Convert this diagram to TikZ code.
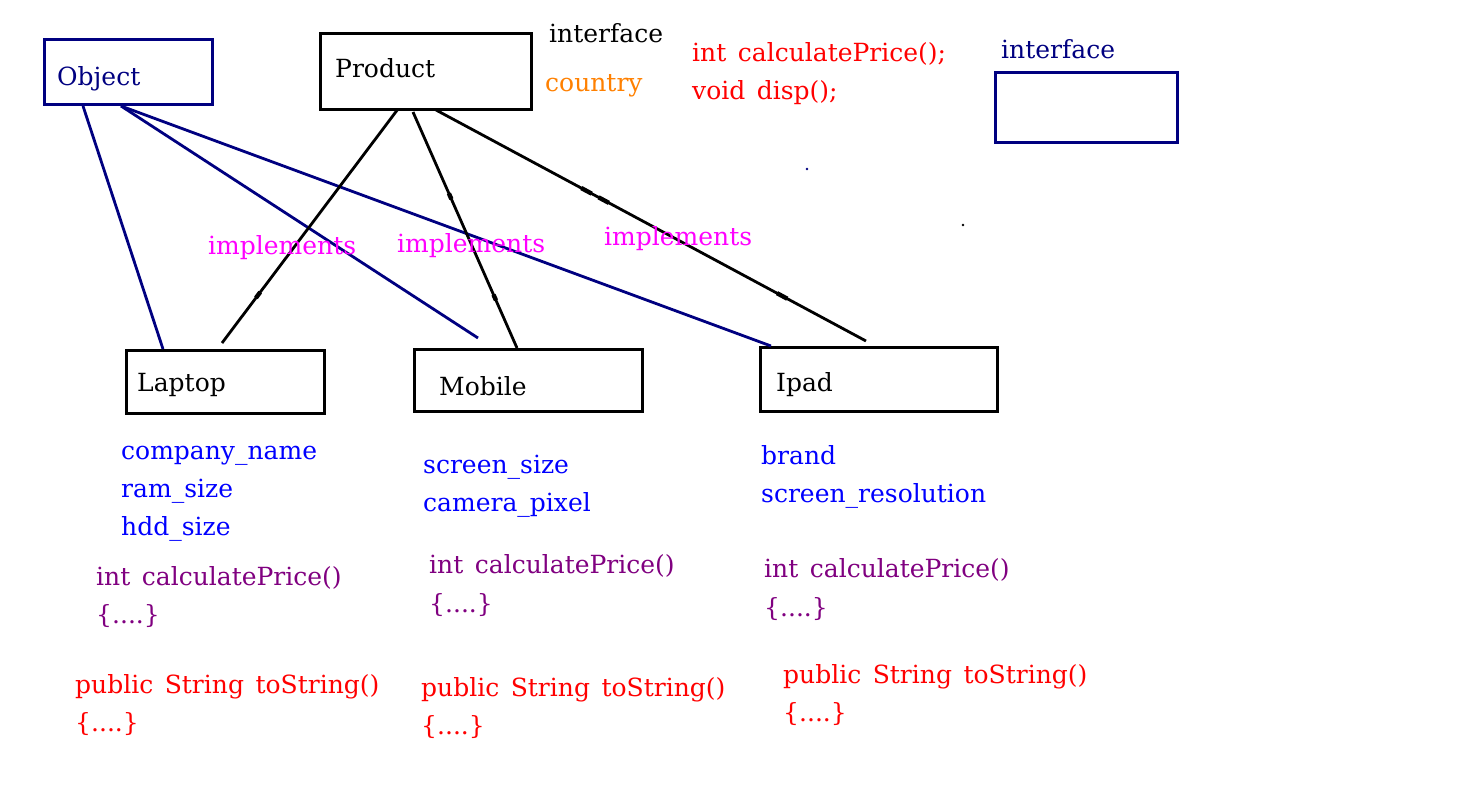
\documentclass[tikz,border=0pt]{standalone}
\usepackage{fontspec}
\setmainfont{DejaVu Serif}
\usetikzlibrary{calc}
\definecolor{navyc}{RGB}{0,0,128}
\definecolor{bluec}{RGB}{0,0,255}
\definecolor{purplec}{RGB}{128,0,128}
\definecolor{orangec}{RGB}{255,128,0}
\definecolor{magentac}{RGB}{255,0,255}
\definecolor{redc}{RGB}{255,0,0}
\newcommand{\gap}{\hspace{11.5pt}}
\tikzset{
  box/.style={draw, line width=3pt, anchor=north west, inner sep=0pt},
  navybox/.style={box, draw=navyc},
  txt/.style={anchor=mid west, inner sep=0pt, yshift=-6pt, font=\fontsize{25}{30}\selectfont},
  conn/.style={line width=2.8pt},
  navyconn/.style={conn, draw=navyc},
  tickmark/.style={line width=4.4pt},
}
\begin{document}
\begin{tikzpicture}[x=1pt,y=-1pt]
\useasboundingbox (0,0) rectangle (1481,795);
% boxes
\node[navybox, minimum width=168, minimum height=65] (obj) at (43,38) {};
\node[box, minimum width=211, minimum height=76] (prod) at (319,32) {};
\node[navybox, minimum width=182, minimum height=70] (iface) at (994,71) {};
\node[box, minimum width=198, minimum height=63] (lap) at (125,349) {};
\node[box, minimum width=228, minimum height=62] (mob) at (413,348) {};
\node[box, minimum width=237, minimum height=64] (ipad) at (759,346) {};
% box texts
\node[txt, text=navyc] (tobj) at (57,77) {Object};
\node[txt] (tprod) at (335,69) {Product};
\node[txt] (tlap) at (137,383) {Laptop};
\node[txt] (tmob) at (439,387) {Mobile};
\node[txt] (tipad) at (776,383) {Ipad};
% top texts
\node[txt] (if1) at (549,34) {interface};
\node[txt, text=orangec] (ctry) at (545,83) {country};
\node[txt, text=redc] (m1) at (692,53) {int\gap calculatePrice();};
\node[txt, text=redc] (m2) at (692,91) {void\gap disp();};
\node[txt, text=navyc] (if2) at (1001,50) {interface};
% dots
\fill[navyc] (807,169) circle (1.3);
\fill[black] (963,225) circle (1.3);
% connector end points
\coordinate (mobfree) at (478,338);
\coordinate (lapend) at (222,343);
\coordinate (ipadend) at (866,341);
% navy connectors (Object)
\draw[navyconn] ($(obj.south west)+(40,0)$) -- ($(lap.north west)+(38,0)$);
\draw[navyconn] ($(obj.south west)+(78,0)$) -- (mobfree);
\draw[navyconn] ($(obj.south west)+(78,0)$) -- ($(ipad.north west)+(12,0)$);
% black connectors (Product)
\coordinate (p1) at ($(prod.south west)+(79,-2)$);
\coordinate (p2) at ($(prod.south west)+(94,1)$);
\coordinate (p3) at ($(prod.south west)+(117,-1)$);
\coordinate (mobend) at ($(mob.north west)+(104,0)$);
\draw[conn] (p1) -- (lapend);
\draw[conn] (p2) -- (mobend);
\draw[conn] (p3) -- (ipadend);
% small tick marks on black connectors
\foreach \a/\b/\t in {p1/lapend/0.795, p2/mobend/0.357, p2/mobend/0.786, p3/ipadend/0.35, p3/ipadend/0.39, p3/ipadend/0.805}{
  \draw[tickmark] ($(\a)!\t-0.012!(\b)$) -- ($(\a)!\t+0.012!(\b)$);
}
% implements labels
\node[txt, text=magentac] (im1) at (208,246) {implements};
\node[txt, text=magentac] (im2) at (397,244) {implements};
\node[txt, text=magentac] (im3) at (604,237) {implements};
% Laptop members
\node[txt, text=bluec] at (121,451) {company\_name};
\node[txt, text=bluec] at (121,489) {ram\_size};
\node[txt, text=bluec] at (121,527) {hdd\_size};
\node[txt, text=purplec] at (96,577) {int\gap calculatePrice()};
\node[txt, text=purplec] at (96,615) {\{....\}};
\node[txt, text=redc] at (75,685) {public\gap String\gap toString()};
\node[txt, text=redc] at (75,723) {\{....\}};
% Mobile members
\node[txt, text=bluec] at (423,465) {screen\_size};
\node[txt, text=bluec] at (423,503) {camera\_pixel};
\node[txt, text=purplec] at (429,565) {int\gap calculatePrice()};
\node[txt, text=purplec] at (429,604) {\{....\}};
\node[txt, text=redc] at (421,688) {public\gap String\gap toString()};
\node[txt, text=redc] at (421,726) {\{....\}};
% Ipad members
\node[txt, text=bluec] at (761,456) {brand};
\node[txt, text=bluec] at (761,494) {screen\_resolution};
\node[txt, text=purplec] at (764,569) {int\gap calculatePrice()};
\node[txt, text=purplec] at (764,608) {\{....\}};
\node[txt, text=redc] at (783,675) {public\gap String\gap toString()};
\node[txt, text=redc] at (783,713) {\{....\}};
\end{tikzpicture}
\end{document}
